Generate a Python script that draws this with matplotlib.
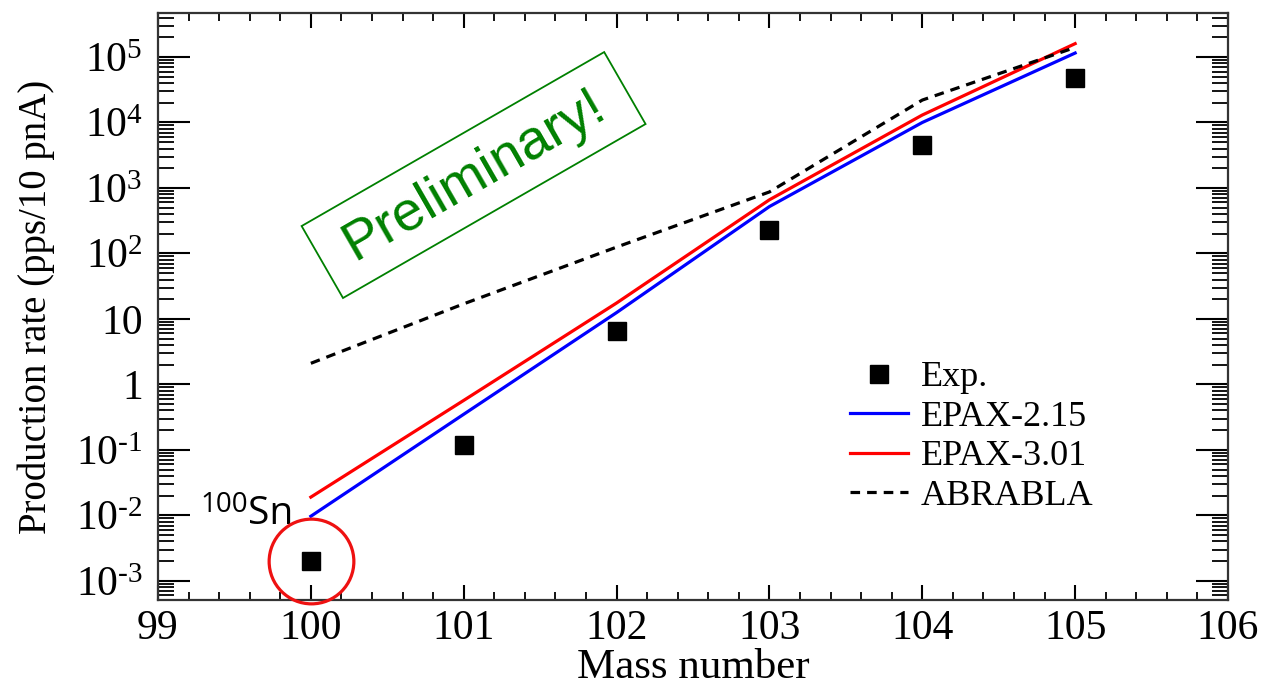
import numpy as np
import matplotlib
matplotlib.use("Agg")
import matplotlib.pyplot as plt
from matplotlib.patches import Rectangle
from matplotlib.transforms import IdentityTransform
from matplotlib.ticker import LogLocator

# data
mass = [100, 101, 102, 103, 104, 105]
exp_rate = [2.0e-3, 0.12, 6.5, 225, 4.6e3, 4.8e4]
epax215 = [9.7e-3, 0.35, 12.5, 520, 1.0e4, 1.15e5]
epax301 = [1.9e-2, 0.57, 17.5, 660, 1.3e4, 1.6e5]
abrabla = [2.1, 17, 125, 870, 2.2e4, 1.4e5]

ytick_vals = [1e-3, 1e-2, 1e-1, 1, 10, 1e2, 1e3, 1e4, 1e5]
ytick_labels = [r'$10^{\text{-}3}$', r'$10^{\text{-}2}$', r'$10^{\text{-}1}$', '1', '10',
                '$10^{2}$', '$10^{3}$', '$10^{4}$', '$10^{5}$']
xtick_vals = [99, 100, 101, 102, 103, 104, 105, 106]

plt.rcParams['font.family'] = ['Liberation Serif', 'DejaVu Serif']
plt.rcParams['mathtext.fontset'] = 'custom'
plt.rcParams['mathtext.rm'] = 'Liberation Serif'
plt.rcParams['mathtext.it'] = 'Liberation Serif:italic'
plt.rcParams['mathtext.bf'] = 'Liberation Serif:bold'
plt.rcParams['mathtext.default'] = 'regular'

fig = plt.figure(figsize=(12.64, 6.89), dpi=100)
ax = fig.add_axes([158 / 1264, 1 - 600 / 689, (1228 - 158) / 1264, (600 - 13) / 689])

ax.plot(mass, epax215, color='#0000ff', lw=2.3, label='EPAX-2.15')
ax.plot(mass, epax301, color='#ff0000', lw=2.3, label='EPAX-3.01')
ax.plot(mass, abrabla, color='black', lw=2.3, dashes=(3, 2.2), label='ABRABLA')
ax.plot(mass, exp_rate, 's', color='black', ms=13, label='Exp.', zorder=5)

# red circle around 100Sn point
ax.plot(mass[0], exp_rate[0], 'o', ms=61, mfc='none', mec='#ee1111', mew=2.3,
        clip_on=False, zorder=6)
ax.text(99.275, 1.11e-2, '100', fontsize=20, family='Open Sans', va='baseline')
ax.text(99.589, 7.3e-3, 'Sn', fontsize=28, family='Open Sans', va='baseline')

ax.set_yscale('log')
ax.set_xlim(99, 106)
ax.set_ylim(5.1e-4, 4.7e5)
ax.set_xticks(xtick_vals)
ax.set_xticks(np.arange(99, 106.01, 0.2), minor=True)
ax.set_yticks(ytick_vals)
ax.set_yticklabels(ytick_labels)
ax.yaxis.set_minor_locator(LogLocator(base=10, subs=np.arange(2, 10), numticks=100))
ax.yaxis.set_minor_formatter(plt.NullFormatter())

ax.tick_params(axis='both', which='both', direction='in', top=True, right=True)
ax.tick_params(axis='x', which='major', length=11, width=1.5, pad=7, labelsize=30)
ax.tick_params(axis='x', which='minor', length=6, width=1.3)
ax.tick_params(axis='y', which='major', length=23, width=1.5, pad=11, labelsize=30)
ax.tick_params(axis='y', which='minor', length=11.5, width=1.3)
for s in ax.spines.values():
    s.set_linewidth(1.6)
    s.set_color('#333333')

ax.set_xlabel('Mass number', fontsize=31, labelpad=0)
ax.set_ylabel('Production rate (pps/10 pnA)', fontsize=28, labelpad=15)

# legend order as in picture
h, l = ax.get_legend_handles_labels()
order = [3, 0, 1, 2]
ax.legend([h[i] for i in order], [l[i] for i in order], frameon=False,
          loc='upper left', bbox_to_anchor=(832 / 1264, 1 - 343 / 689),
          bbox_transform=fig.transFigure, borderpad=0, fontsize=26,
          handlelength=1.6, handletextpad=0.35, labelspacing=0.17, numpoints=1)

# "Preliminary!" stamp (display pixels)
ang = 29.9
fig.patches.append(Rectangle((343, 689 - 298), 349, 83, angle=ang, fill=False,
                             edgecolor='#008000', lw=1.3,
                             transform=IdentityTransform(), figure=fig))
fig.text(475, 689 - 175, 'Preliminary!', transform=IdentityTransform(),
         fontsize=40, family='Liberation Sans', color='#008000', rotation=ang,
         ha='center', va='center', rotation_mode='anchor')

fig.savefig('out.png', dpi=100)
